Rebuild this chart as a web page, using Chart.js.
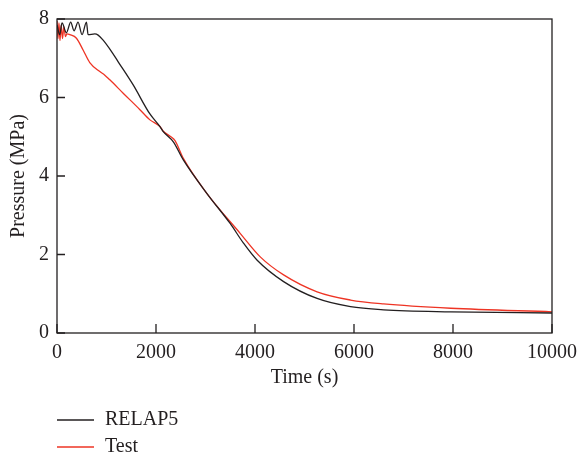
<!DOCTYPE html>
<html>
<head>
<meta charset="utf-8">
<script src="https://cdn.jsdelivr.net/npm/chart.js@4/dist/chart.umd.min.js"></script>
<style>
  html, body { margin: 0; padding: 0; background: #fff; }
  #wrap { width: 577px; height: 455px; }
</style>
</head>
<body>
<div id="wrap"><canvas id="myChart" width="577" height="455"></canvas></div>
<script>
// values
const relap_t = [0, 55, 101, 190, 277, 344, 425, 506, 595, 628, 764, 831, 932, 1102, 1236, 1539, 1877, 2080, 2147, 2350, 2552, 3026, 3498, 3767, 4039, 4578, 5254, 5929, 6597, 7954, 10000];
const relap_p = [7.85, 7.6, 7.9, 7.65, 7.92, 7.7, 7.92, 7.6, 7.92, 7.6, 7.62, 7.59, 7.46, 7.17, 6.91, 6.32, 5.58, 5.26, 5.13, 4.87, 4.41, 3.56, 2.79, 2.29, 1.86, 1.31, 0.88, 0.67, 0.59, 0.54, 0.51];

const test_t = [0, 20, 40, 60, 85, 110, 140, 170, 200, 260, 393, 527, 662, 865, 966, 1067, 1337, 1675, 1877, 2080, 2147, 2300, 2384, 2552, 3026, 3700, 4106, 4578, 5254, 5929, 6597, 7954, 10000];
const test_p = [7.95, 7.5, 7.9, 7.45, 7.85, 7.5, 7.8, 7.55, 7.62, 7.6, 7.51, 7.21, 6.89, 6.66, 6.57, 6.45, 6.11, 5.69, 5.43, 5.26, 5.14, 5.0, 4.9, 4.45, 3.56, 2.54, 1.94, 1.48, 1.05, 0.84, 0.74, 0.63, 0.54];

const x_ticks = [0, 2000, 4000, 6000, 8000, 10000];
const y_ticks = [0, 2, 4, 6, 8];

const toPoints = (t, p) => t.map((v, i) => ({ x: v, y: p[i] }));

const serif = "'Liberation Serif', 'DejaVu Serif', serif";

// frame, inward ticks and the legend under the plot
const framePlugin = {
    id: 'frame',
    afterDraw(chart) {
        const ctx = chart.ctx;
        const a = chart.chartArea;
        const xs = chart.scales.x, ys = chart.scales.y;
        ctx.save();
        ctx.strokeStyle = '#231f20';
        ctx.lineWidth = 1.3;
        ctx.strokeRect(a.left, a.top, a.right - a.left, a.bottom - a.top);
        ctx.beginPath();
        x_ticks.forEach(v => {
            const px = xs.getPixelForValue(v);
            ctx.moveTo(px, a.bottom);
            ctx.lineTo(px, a.bottom - 9);
        });
        y_ticks.forEach(v => {
            const py = ys.getPixelForValue(v);
            ctx.moveTo(a.left, py);
            ctx.lineTo(a.left + 8, py);
        });
        ctx.stroke();

        ctx.font = '20px ' + serif;
        ctx.textBaseline = 'middle';
        ctx.textAlign = 'left';
        chart.data.datasets.forEach((ds, i) => {
            const y = 420 + i * 27;
            ctx.strokeStyle = ds.borderColor;
            ctx.lineWidth = 1.3;
            ctx.beginPath();
            ctx.moveTo(57, y);
            ctx.lineTo(94, y);
            ctx.stroke();
            ctx.fillStyle = '#231f20';
            ctx.fillText(ds.label, 105, y);
        });
        ctx.restore();
    }
};

const ctx = document.getElementById('myChart').getContext('2d');
const myChart = new Chart(ctx, {
    type: 'line',
    data: {
        datasets: [{
            label: 'RELAP5',
            data: toPoints(relap_t, relap_p),
            borderColor: '#231f20',
            borderWidth: 1.3,
            pointRadius: 0,
            cubicInterpolationMode: 'monotone'
        }, {
            label: 'Test',
            data: toPoints(test_t, test_p),
            borderColor: '#ee3424',
            borderWidth: 1.3,
            pointRadius: 0,
            cubicInterpolationMode: 'monotone'
        }]
    },
    options: {
        responsive: false,
        animation: false,
        layout: {
            padding: { left: 0, right: 0, top: 19, bottom: 61 }
        },
        plugins: {
            legend: { display: false },
            tooltip: { enabled: false }
        },
        scales: {
            x: {
                type: 'linear',
                min: 0,
                max: 10000,
                grid: { display: false },
                border: { display: false },
                afterBuildTicks: scale => { scale.ticks = x_ticks.map(v => ({ value: v })); },
                afterFit: scale => { scale.height = 61; },
                ticks: {
                    color: '#231f20',
                    padding: 0,
                    maxRotation: 0,
                    font: { family: serif, size: 20 },
                    callback: v => String(v)
                },
                title: {
                    display: true,
                    text: 'Time (s)',
                    color: '#231f20',
                    font: { family: serif, size: 20 }
                }
            },
            y: {
                min: 0,
                max: 8,
                grid: { display: false },
                border: { display: false },
                afterBuildTicks: scale => { scale.ticks = y_ticks.map(v => ({ value: v })); },
                afterFit: scale => { scale.width = 57; },
                ticks: {
                    color: '#231f20',
                    padding: 0,
                    font: { family: serif, size: 20 },
                    callback: v => String(v)
                },
                title: {
                    display: true,
                    text: 'Pressure (MPa)',
                    color: '#231f20',
                    padding: { top: 7, bottom: 0 },
                    font: { family: serif, size: 20 }
                }
            }
        }
    },
    plugins: [framePlugin]
});
</script>
</body>
</html>
